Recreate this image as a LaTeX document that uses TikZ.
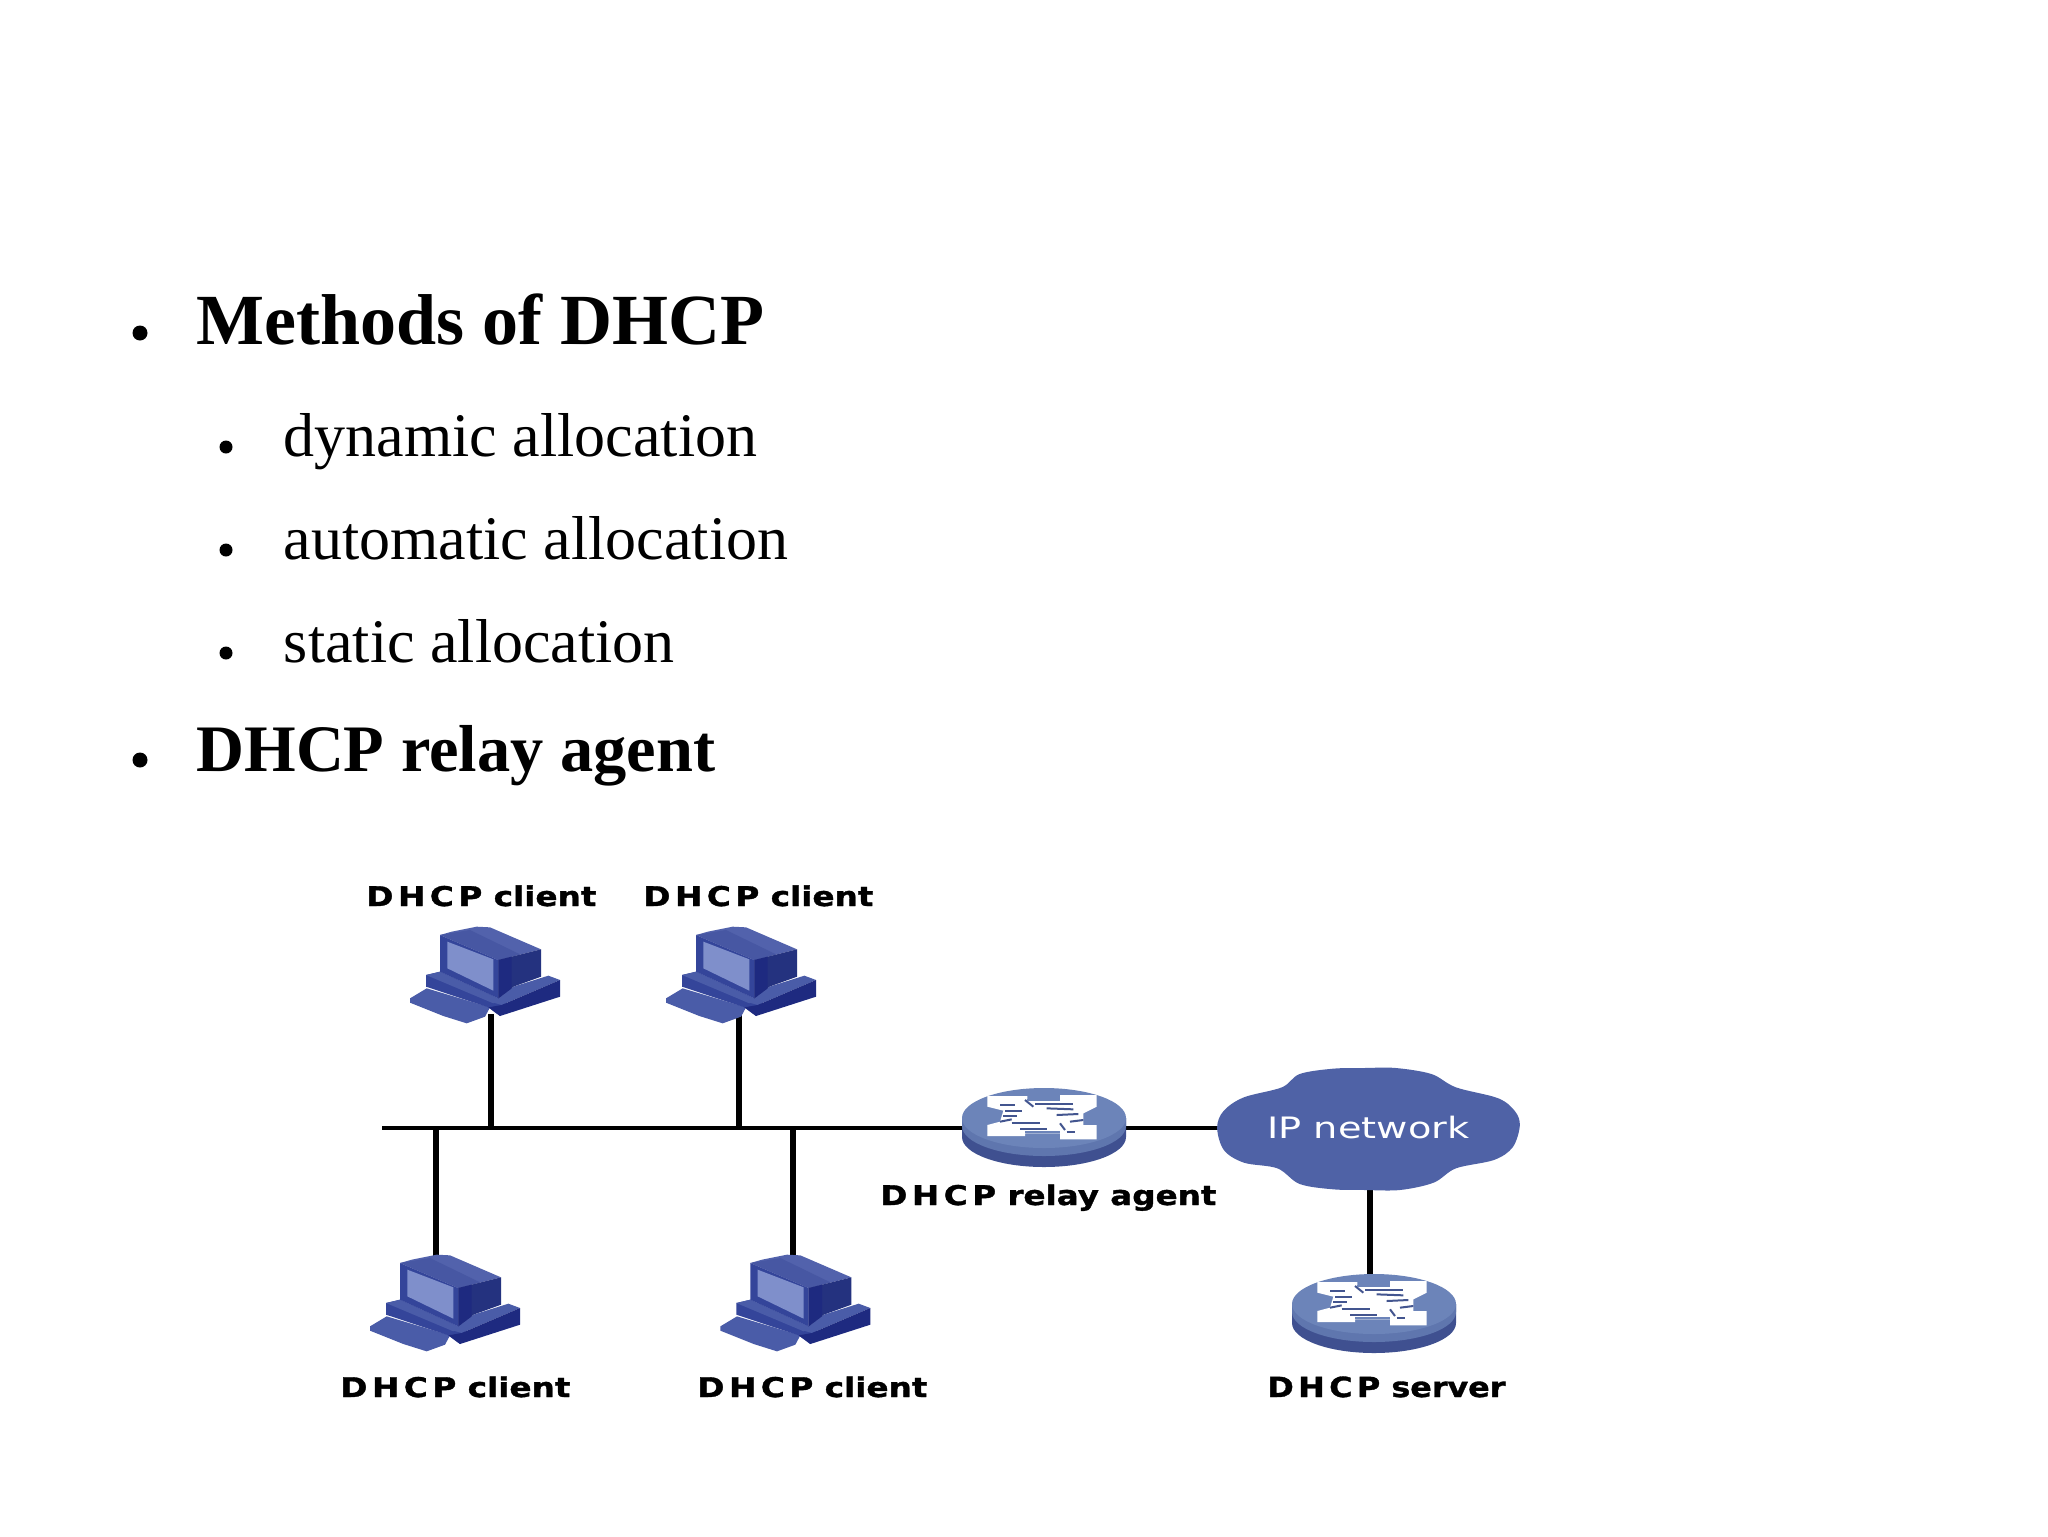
\documentclass[tikz,border=0pt]{standalone}
\usepackage{fontspec}
\usepackage{graphicx}
\setmainfont{Liberation Serif}
\newfontfamily\labelfont{DejaVu Sans}
\definecolor{pcmid}{HTML}{4A5CA8}
\definecolor{pcdark}{HTML}{24327F}
\definecolor{pcdeep}{HTML}{1E2A80}
\definecolor{pcband}{HTML}{34459A}
\definecolor{pcscreen}{HTML}{7F8FCB}
\definecolor{pctop}{HTML}{5262AC}
\definecolor{pctopb}{HTML}{4757A3}
\definecolor{rttop}{HTML}{6C84B9}
\definecolor{rtlow}{HTML}{3F5090}
\definecolor{rtband}{HTML}{5F76AE}
\definecolor{rtline}{HTML}{43558F}
\definecolor{cloudblue}{HTML}{4F62A6}
\newcommand{\fitlabel}[3]{\resizebox{#1pt}{#2pt}{\labelfont\bfseries\addfontfeature{FakeBold=1.2} #3}}
\newcommand{\spaced}[1]{{\addfontfeature{LetterSpace=14}#1}}
\tikzset{
  x=0.5pt,y=-0.5pt,
  mainbullet/.style={circle,fill=black,inner sep=0pt,minimum size=7.5pt},
  subbullet/.style={circle,fill=black,inner sep=0pt,minimum size=6.5pt},
  headtext/.style={anchor=base west,inner sep=0pt,font=\fontsize{36}{40}\selectfont\bfseries},
  headsmall/.style={anchor=base west,inner sep=0pt,font=\fontsize{33.2}{38}\selectfont\bfseries},
  subtext/.style={anchor=base west,inner sep=0pt,font=\fontsize{31}{35}\selectfont},
  devlabel/.style={anchor=north west,inner sep=0pt},
  wire/.style={draw=black,line width=3.2pt},
  buswire/.style={draw=black,line width=2.3pt},
  computer/.pic={
    \begin{scope}[scale=0.3333,shift={(-242,-282)}]
      \fill[pcmid] (0,235)--(50,205)--(240,262)--(225,290)--(170,310)--(100,288)--(0,248)--cycle;
      \fill[pcband] (48,165)--(48,200)--(235,262)--(270,288)--(300,260)--(265,235)--(90,155)--cycle;
      \fill[pcmid] (48,165)--(90,155)--(265,235)--(250,250)--cycle;
      \fill[pcmid] (310,200)--(415,167)--(450,180)--(275,255)--(240,245)--(265,235)--cycle;
      \fill[pcdeep] (275,255)--(450,180)--(450,230)--(270,288)--(235,262)--cycle;
      \fill[pcband] (90,45)--(265,120)--(265,235)--(90,155)--cycle;
      \fill[pcscreen] (112,65)--(250,118)--(250,212)--(112,145)--cycle;
      \fill[pctop] (90,45)--(125,35)--(200,20)--(240,22)--(393,88)--(265,120)--cycle;
      \fill[pctopb] (90,45)--(180,30)--(330,103)--(265,120)--cycle;
      \fill[pcdark] (265,120)--(393,88)--(393,170)--(310,200)--(265,235)--cycle;
      \fill[pcdeep] (265,120)--(305,110)--(305,205)--(265,235)--cycle;
    \end{scope}
  },
  netbox/.pic={
    \fill[rtlow] (-82,0)--(-82,19) arc[start angle=180,end angle=0,x radius=82,y radius=30]--(82,0)--cycle;
    \fill[rtband] (-82,0)--(-82,8) arc[start angle=180,end angle=0,x radius=82,y radius=30]--(82,0)--cycle;
    \fill[rttop] (0,0) ellipse[x radius=82,y radius=30];
    \begin{scope}[scale=0.3333,shift={(-282,-84)}]
      \fill[white] (112,18)--(232,18)--(232,28)--(330,28)--(330,15)--(440,15)--(440,50)--(400,70)--(400,105)--(440,105)--(440,148)--(330,148)--(330,130)--(225,130)--(225,138)--(112,138)--(112,105)--(150,95)--(160,62)--(112,50)--cycle;
      \foreach \a/\b/\c/\d in {150/45/195/45,165/62/215/62,160/78/200/78,150/95/185/88,255/42/370/42,290/55/370/58,320/75/385/72,360/95/400/90,185/100/270/100,210/118/290/118,350/125/375/125,330/100/345/120,225/30/250/50}
        \draw[rtline,line width=1pt] (\a,\b)--(\c,\d);
      \fill[rttop] (232,28)--(330,28)--(330,34)--(232,34)--cycle;
      \fill[rttop] (225,130)--(330,130)--(330,122)--(225,122)--cycle;
    \end{scope}
  }
}
\begin{document}
\begin{tikzpicture}
\useasboundingbox (0,0) rectangle (2048,1536);
\fill[white] (0,0) rectangle (2048,1536);

% slide text
\node[mainbullet] (b1) at (140,333) {};
\node[headtext] (t1) at (196,344) {Methods of DHCP};
\node[subbullet] (b2) at (226,447) {};
\node[subtext] (t2) at (283.5,456) {dynamic allocation};
\node[subbullet] (b3) at (226,550) {};
\node[subtext] (t3) at (283.5,559) {automatic allocation};
\node[subbullet] (b4) at (226,653) {};
\node[subtext] (t4) at (283.5,662) {static allocation};
\node[mainbullet] (b5) at (140,760) {};
\node[headsmall] (t5) at (196,771) {DHCP relay agent};

% anchor points
\coordinate (pc1) at (490.7,1014);
\coordinate (pc2) at (739,1014);
\coordinate (pc3) at (436,1262);
\coordinate (pc4) at (793,1262);
\coordinate (busL) at (382,1128);
\coordinate (relay) at (1044,1128);
\coordinate (relaybox) at (1044,1118);
\coordinate (serverbox) at (1374,1304);
\coordinate (cloudc) at (1370,1128);
\coordinate (cloudbottom) at (1370,1185);
\coordinate (servertop) at (1370,1280);

% connectors
\draw[buswire] (busL) -- (relay);
\draw[buswire] (relay) -- (cloudc);
\draw[wire] (pc1) -- (pc1 |- busL);
\draw[wire] (pc2) -- (pc2 |- busL);
\draw[wire] (pc3) -- (pc3 |- busL);
\draw[wire] (pc4) -- (pc4 |- busL);
\draw[wire] (cloudbottom) -- (servertop);

% devices
\pic at (490.7,1014) {computer};
\pic at (746.7,1014) {computer};
\pic at (450.7,1342) {computer};
\pic at (801,1342) {computer};
\pic at (relaybox) {netbox};
\pic at (serverbox) {netbox};

% cloud
\begin{scope}[shift={(860,1040)},xscale=0.4464,yscale=0.3333]
  \fill[cloudblue] plot[smooth cycle,tension=0.55] coordinates {(800,262) (815,212) (860,172) (945,142) (985,102) (1060,86) (1130,84) (1200,84) (1280,102) (1335,142) (1430,175) (1468,215) (1478,258) (1462,322) (1420,360) (1335,385) (1285,428) (1210,450) (1130,450) (1060,448) (985,432) (935,385) (860,368) (815,330)};
\end{scope}
\node[anchor=west,inner sep=0pt,text=white] (ipnet) at (1267,1127) {\resizebox{101pt}{11.2pt}{\labelfont IP network}};

% device labels
\node[devlabel] (l1) at (366,885) {\fitlabel{115}{10.3}{\spaced{DHCP} client}};
\node[devlabel] (l2) at (643,885) {\fitlabel{115}{10.3}{\spaced{DHCP} client}};
\node[devlabel] (l3) at (340,1376) {\fitlabel{115}{10.3}{\spaced{DHCP} client}};
\node[devlabel] (l4) at (697,1376) {\fitlabel{115}{10.3}{\spaced{DHCP} client}};
\node[devlabel] (l5) at (880,1184) {\fitlabel{168}{10.3}{\spaced{DHCP} relay agent}};
\node[devlabel] (l6) at (1267,1376) {\fitlabel{119}{10.3}{\spaced{DHCP} server}};
\end{tikzpicture}
\end{document}
